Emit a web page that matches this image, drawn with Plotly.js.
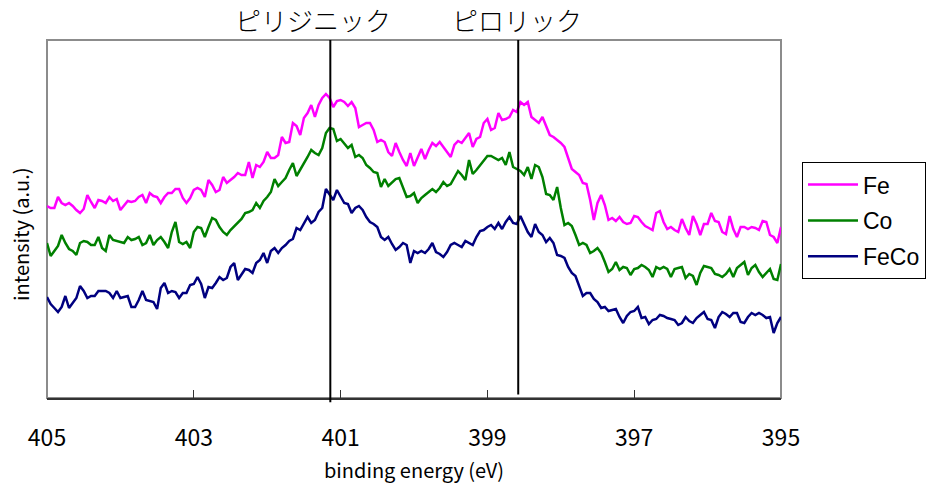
<!DOCTYPE html>
<html>
<head>
<meta charset="utf-8">
<script src="https://cdn.plot.ly/plotly-3.0.1.min.js"></script>
<style>html,body{margin:0;padding:0;background:#fff;}#chart{width:939px;height:490px;}</style>
</head>
<body>
<div id="chart"></div>
<script>
// binding energy grid (eV), 0.05 eV steps from 405 down to 395
var energyStart = 405.0;
var energyStep = 0.05;
var pointCount = 201;

var seriesNames = ["Fe", "Co", "FeCo"];
var xTickValues = [405, 403, 401, 399, 397, 395];
var peakNames = ["ピリジニック", "ピロリック"];
var peakPositions = [401.14, 398.58];

var feIntensity = [
192,190,190,201,195,193,195,192,188,185,189,203,196,190,198,197,195,201,197,199,188,193,197,196,197,201,203,195,205,202,201,195,201,205,205,209,209,200,195,200,208,
210,208,201,218,213,206,208,221,215,218,221,225,223,223,236,220,233,231,236,246,240,240,243,261,255,256,275,272,263,280,285,293,281,293,300,304,300,291,297,298,
296,292,296,290,271,273,275,275,268,256,258,256,246,242,255,246,238,232,245,232,241,249,239,248,255,252,256,251,245,241,253,257,255,260,265,251,259,261,275,279,
268,270,285,278,279,281,288,286,296,293,296,281,278,275,281,271,263,261,258,255,251,241,229,226,223,215,214,198,178,195,203,193,178,180,177,181,176,174,175,
182,181,176,172,170,168,185,187,176,169,171,168,166,179,170,163,182,174,163,174,174,185,177,176,166,164,182,169,161,171,171,169,171,170,168,177,176,163,161,155,171
];
var coIntensity = [
155,142,147,152,163,155,149,147,143,155,157,156,153,153,161,150,147,163,158,157,156,155,161,158,159,161,153,155,163,153,158,161,156,150,166,176,156,154,156,150,166,
171,170,161,171,180,178,171,166,163,168,172,176,179,185,186,188,195,190,197,201,206,219,212,216,220,228,235,222,228,235,241,248,245,243,250,265,270,269,257,259,
255,250,253,241,243,240,233,230,226,225,211,219,212,216,219,220,210,201,202,205,195,200,203,206,209,206,210,216,212,214,221,227,223,218,238,224,228,233,238,242,
242,240,238,240,233,246,231,229,227,223,231,219,233,231,221,204,203,198,211,190,173,175,172,163,153,155,153,145,147,150,145,136,126,129,136,128,131,130,123,
129,130,133,131,128,121,131,129,131,129,121,129,130,131,120,124,122,113,125,132,131,130,124,123,121,124,129,121,130,133,136,123,130,133,126,121,125,129,119,118,134
];
var fecoIntensity = [
101,94,90,86,91,102,90,95,100,112,107,100,102,102,107,107,107,105,100,107,100,101,102,91,91,98,107,98,97,96,89,110,115,105,107,106,100,105,105,113,114,
121,114,100,111,110,115,121,118,120,131,135,118,124,129,128,125,135,138,145,135,147,150,145,150,153,157,159,170,168,175,181,175,178,186,190,209,203,198,208,201,
195,194,185,190,192,188,181,176,174,171,161,158,161,154,148,151,155,153,135,147,145,147,145,149,155,146,144,141,146,153,155,153,151,157,155,153,161,167,168,171,
173,169,175,169,176,181,175,174,182,174,166,161,174,166,163,156,160,155,143,142,140,131,125,122,111,102,105,105,99,96,90,91,87,88,89,81,75,82,86,
87,91,80,81,74,78,79,83,82,80,79,78,73,75,81,77,75,80,83,86,79,78,70,81,86,84,81,85,85,76,75,81,85,83,85,83,80,81,65,75,81
];

var energy = [];
for (var i = 0; i < pointCount; i++) {
  energy.push(Math.round((energyStart - energyStep * i) * 100) / 100);
}

var colors = ["#FF00FF", "#008000", "#000080"];
var values = [feIntensity, coIntensity, fecoIntensity];

var traces = values.map(function (v, k) {
  return {
    x: energy, y: v, type: "scatter", mode: "lines",
    name: seriesNames[k], legendgroup: "g" + k,
    line: {color: colors[k], width: 2.5},
    hoverinfo: "skip"
  };
});

var shapes = [
  {type: "rect", xref: "paper", yref: "paper", x0: 0, x1: 1, y0: 0, y1: 1,
   line: {color: "#8c8c8c", width: 2}, layer: "below"},
  {type: "line", xref: "x", yref: "paper", x0: peakPositions[0], x1: peakPositions[0], y0: -0.012, y1: 1,
   line: {color: "#000", width: 2}},
  {type: "line", xref: "x", yref: "paper", x0: peakPositions[1], x1: peakPositions[1], y0: 0.01, y1: 1,
   line: {color: "#000", width: 2}}
];

var annotations = [
  {text: peakNames[0], xref: "paper", yref: "paper", x: 0.362, y: 1.056, showarrow: false,
   xanchor: "center", yanchor: "middle", font: {family: "Noto Sans CJK JP", size: 26, weight: 300, color: "#000"}},
  {text: peakNames[1], xref: "paper", yref: "paper", x: 0.640, y: 1.056, showarrow: false,
   xanchor: "center", yanchor: "middle", font: {family: "Noto Sans CJK JP", size: 26, weight: 300, color: "#000"}},
  {text: "intensity (a.u.)", xref: "paper", yref: "paper", x: 0, xshift: -27, y: 0.458, showarrow: false,
   textangle: -90, xanchor: "center", yanchor: "middle",
   font: {family: "Noto Sans CJK JP", size: 20, color: "#000"}}
];

var layout = {
  width: 939, height: 490,
  margin: {l: 47, r: 158, t: 40, b: 92},
  paper_bgcolor: "#fff", plot_bgcolor: "#fff",
  showlegend: true,
  legend: {
    x: 1.0286, xanchor: "left", y: 0.659, yanchor: "top",
    bordercolor: "#000", borderwidth: 1, bgcolor: "#fff",
    font: {family: "Liberation Sans, Arial, sans-serif", size: 23, color: "#000"},
    traceorder: "grouped", tracegroupgap: 3, itemwidth: 50
  },
  xaxis: {
    range: [405, 395], autorange: false,
    tickvals: xTickValues, ticktext: xTickValues.map(String),
    ticks: "inside", ticklen: 8, tickcolor: "#333", tickwidth: 1,
    ticklabelstandoff: 18,
    showgrid: false, zeroline: false,
    showline: true, linecolor: "#333", linewidth: 2,
    tickfont: {family: "Noto Sans CJK JP", size: 23, color: "#000"},
    title: {text: "binding energy (eV)", standoff: 12,
            font: {family: "Noto Sans CJK JP", size: 20, color: "#000"}}
  },
  yaxis: {
    range: [0, 358], autorange: false,
    showticklabels: false, ticks: "", showgrid: false, zeroline: false,
    showline: false
  },
  shapes: shapes,
  annotations: annotations
};

Plotly.newPlot("chart", traces, layout, {displayModeBar: false, staticPlot: true});
</script>
</body>
</html>
